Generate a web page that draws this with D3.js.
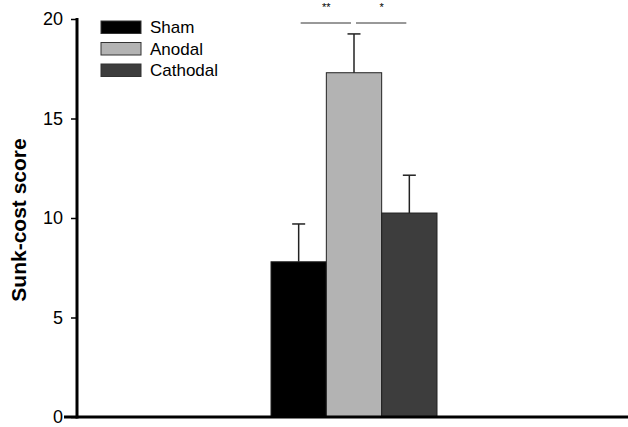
<!DOCTYPE html>
<html>
<head>
<meta charset="utf-8">
<script src="https://cdn.jsdelivr.net/npm/d3@7"></script>
<style>
  body { margin: 0; background: #fff; }
  svg { display: block; font-family: "Liberation Sans", Arial, sans-serif; }
</style>
</head>
<body>
<div id="chart"></div>
<script>
const W = 628, H = 427;

// data
const groups = ["Sham", "Anodal", "Cathodal"];
const means = [7.8, 17.3, 10.25];
const errors = [1.9, 1.95, 1.9];
const colors = ["#000000", "#b3b3b3", "#3d3d3d"];
const yTicks = [0, 5, 10, 15, 20];
const sigMarks = [
    { from: "Sham", to: "Anodal", label: "**" },
    { from: "Anodal", to: "Cathodal", label: "*" }
];

const margin = { top: 19, left: 77 };
const plotBottom = 417;

const svg = d3.select("#chart").append("svg")
    .attr("width", W)
    .attr("height", H);

const y = d3.scaleLinear()
    .domain([0, 20])
    .range([plotBottom, margin.top]);

// bars sit in the middle of the axis
const x = d3.scaleBand()
    .domain(groups)
    .range([271, 437])
    .padding(0);

// y axis
const yAxis = svg.append("g")
    .attr("transform", "translate(" + margin.left + ",0)")
    .call(d3.axisLeft(y).tickValues(yTicks).tickSize(6).tickPadding(8));
yAxis.select(".domain").remove();
yAxis.selectAll(".tick line").attr("stroke", "#000").attr("stroke-width", 1.5);
yAxis.selectAll(".tick text")
    .attr("font-size", 18)
    .attr("font-family", "Liberation Sans, Arial, sans-serif")
    .attr("fill", "#000");

svg.append("line")
    .attr("x1", margin.left).attr("x2", margin.left)
    .attr("y1", y(20) - 1).attr("y2", plotBottom + 1.5)
    .attr("stroke", "#000").attr("stroke-width", 3);

// bars
svg.append("g").selectAll("rect")
    .data(groups)
    .enter().append("rect")
    .attr("x", d => x(d))
    .attr("y", (d, i) => y(means[i]))
    .attr("width", x.bandwidth())
    .attr("height", (d, i) => plotBottom - y(means[i]))
    .attr("fill", (d, i) => colors[i])
    .attr("stroke", "#222")
    .attr("stroke-width", 1);

// error bars (upper only)
const eb = svg.append("g").attr("stroke", "#222").attr("stroke-width", 1.5);
groups.forEach((g, i) => {
    const cx = x(g) + x.bandwidth() / 2;
    eb.append("line")
        .attr("x1", cx).attr("x2", cx)
        .attr("y1", y(means[i])).attr("y2", y(means[i] + errors[i]));
    eb.append("line")
        .attr("x1", cx - 6.5).attr("x2", cx + 6.5)
        .attr("y1", y(means[i] + errors[i])).attr("y2", y(means[i] + errors[i]));
});

// x axis
svg.append("line")
    .attr("x1", 64).attr("x2", W)
    .attr("y1", plotBottom).attr("y2", plotBottom)
    .attr("stroke", "#000").attr("stroke-width", 3);

// significance lines
sigMarks.forEach(s => {
    const x1 = x(s.from) + x.bandwidth() / 2 + 1;
    const x2 = x(s.to) + x.bandwidth() / 2 - 1;
    svg.append("line")
        .attr("x1", x1 + 1).attr("x2", x2 - 2)
        .attr("y1", 23).attr("y2", 23)
        .attr("stroke", "#333").attr("stroke-width", 1);
    svg.append("text")
        .attr("x", (x1 + x2) / 2)
        .attr("y", 11)
        .attr("text-anchor", "middle")
        .attr("font-size", 11)
        .text(s.label);
});

// y label
svg.append("text")
    .attr("transform", "translate(26,220) rotate(-90)")
    .attr("text-anchor", "middle")
    .attr("font-size", 21)
    .attr("font-weight", "bold")
    .text("Sunk-cost score");

// legend
const legend = svg.append("g").attr("transform", "translate(101,21)");
groups.forEach((g, i) => {
    legend.append("rect")
        .attr("x", 0).attr("y", i * 21.5)
        .attr("width", 40).attr("height", 12.5)
        .attr("fill", colors[i])
        .attr("stroke", "#333").attr("stroke-width", 1);
    legend.append("text")
        .attr("x", 49).attr("y", i * 21.5 + 12)
        .attr("font-size", 17)
        .text(g);
});
</script>
</body>
</html>
